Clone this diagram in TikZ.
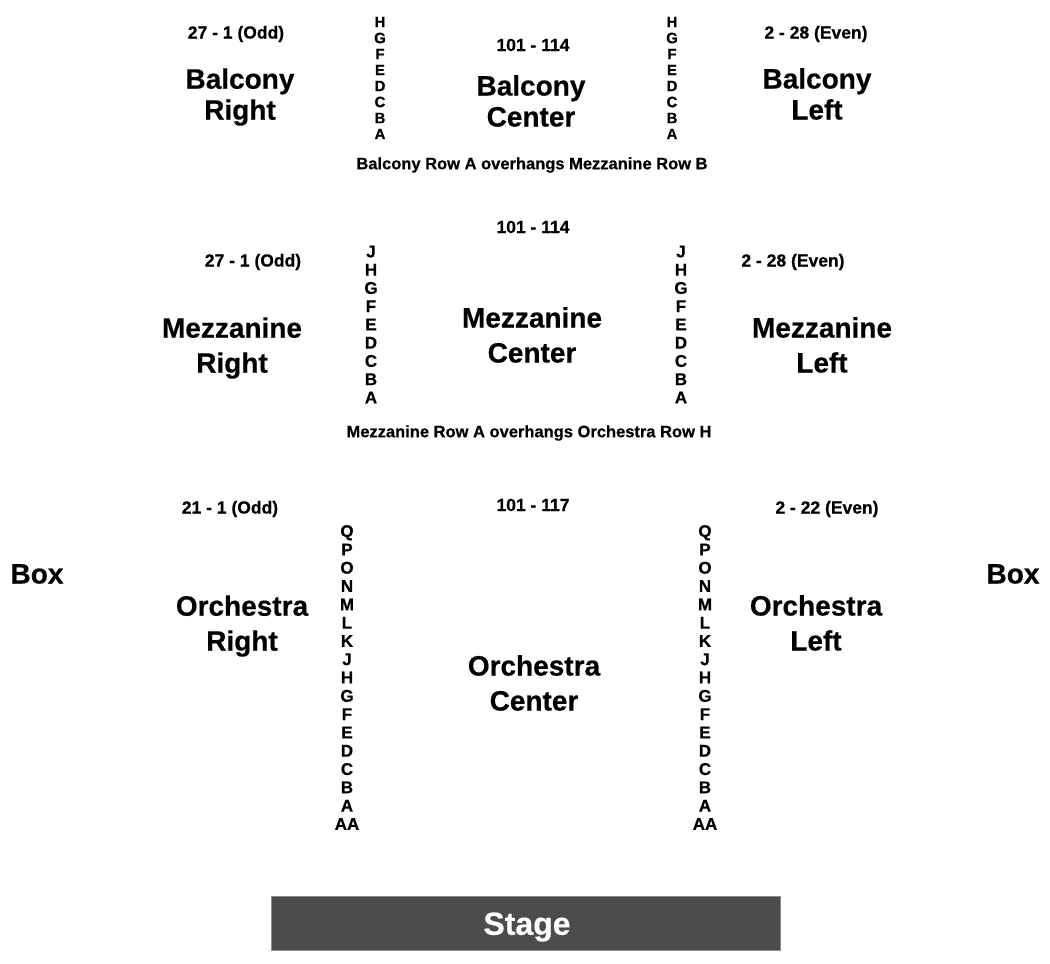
\documentclass[tikz,border=0pt]{standalone}
\usepackage{fontspec}
\setmainfont[BoldFeatures={FakeBold=0.5}]{Liberation Sans}
\begin{document}
\begin{tikzpicture}[x=1pt,y=-1pt,
  every node/.style={inner sep=0pt,outer sep=0pt,font=\bfseries},
  small/.style={font=\bfseries\fontsize{17.5}{20}\selectfont},
  big/.style={align=center,font=\bfseries\fontsize{28}{35}\selectfont},
  bigb/.style={align=center,font=\bfseries\fontsize{28}{31}\selectfont},
  rowsb/.style={align=center,font=\bfseries\fontsize{15}{16}\selectfont},
  rowsm/.style={align=center,font=\bfseries\fontsize{17}{18.25}\selectfont},
  rowso/.style={align=center,font=\bfseries\fontsize{17}{18.3}\selectfont},
  note/.style={font=\bfseries\fontsize{16.5}{20}\selectfont},
  stagebox/.style={fill=black!70,draw=black!45,line width=0.8pt}]
\useasboundingbox (0,0) rectangle (1050,964);
% Balcony
\node[small] (bro) at (236,34) {27 - 1 (Odd)};
\node[small] (bcn) at (533,45) {101 - 114};
\node[small] (ble) at (816,34) {2 - 28 (Even)};
\node[bigb] (br) at (240,97) {Balcony\\Right};
\node[bigb] (bc) at (531,101) {Balcony\\Center};
\node[bigb] (bl) at (817,94) {Balcony\\Left};
\node[rowsb] (brl) at (380,78) {H\\G\\F\\E\\D\\C\\B\\A};
\node[rowsb] (brr) at (672,78) {H\\G\\F\\E\\D\\C\\B\\A};
\node[note] (bnote) at (532,165) {Balcony Row A overhangs Mezzanine Row B};
% Mezzanine
\node[small] (mcn) at (533,227) {101 - 114};
\node[small] (mro) at (253,262) {27 - 1 (Odd)};
\node[small] (mle) at (793,262) {2 - 28 (Even)};
\node[big] (mr) at (232,348) {Mezzanine\\Right};
\node[big] (mc) at (532,335) {Mezzanine\\Center};
\node[big] (ml) at (822,345) {Mezzanine\\Left};
\node[rowsm] (mrl) at (371,324.5) {J\\H\\G\\F\\E\\D\\C\\B\\A};
\node[rowsm] (mrr) at (681,324.5) {J\\H\\G\\F\\E\\D\\C\\B\\A};
\node[note] (mnote) at (529,433) {Mezzanine Row A overhangs Orchestra Row H};
% Orchestra
\node[small] (ocn) at (533,505) {101 - 117};
\node[small] (oro) at (230,509) {21 - 1 (Odd)};
\node[small] (ole) at (827,509) {2 - 22 (Even)};
\node[big] (boxl) at (37,574) {Box};
\node[big] (boxr) at (1013,574) {Box};
\node[big] (or) at (242,626) {Orchestra\\Right};
\node[big] (oc) at (534,683) {Orchestra\\Center};
\node[big] (ol) at (816,623) {Orchestra\\Left};
\node[rowso] (orl) at (347,677.5) {Q\\P\\O\\N\\M\\L\\K\\J\\H\\G\\F\\E\\D\\C\\B\\A\\AA};
\node[rowso] (orr) at (705,677.5) {Q\\P\\O\\N\\M\\L\\K\\J\\H\\G\\F\\E\\D\\C\\B\\A\\AA};
% Stage
\draw[stagebox] (271,896) rectangle (780,950);
\node[text=white,font=\bfseries\fontsize{32}{36}\selectfont] (stage) at (527,927) {Stage};
\end{tikzpicture}
\end{document}
